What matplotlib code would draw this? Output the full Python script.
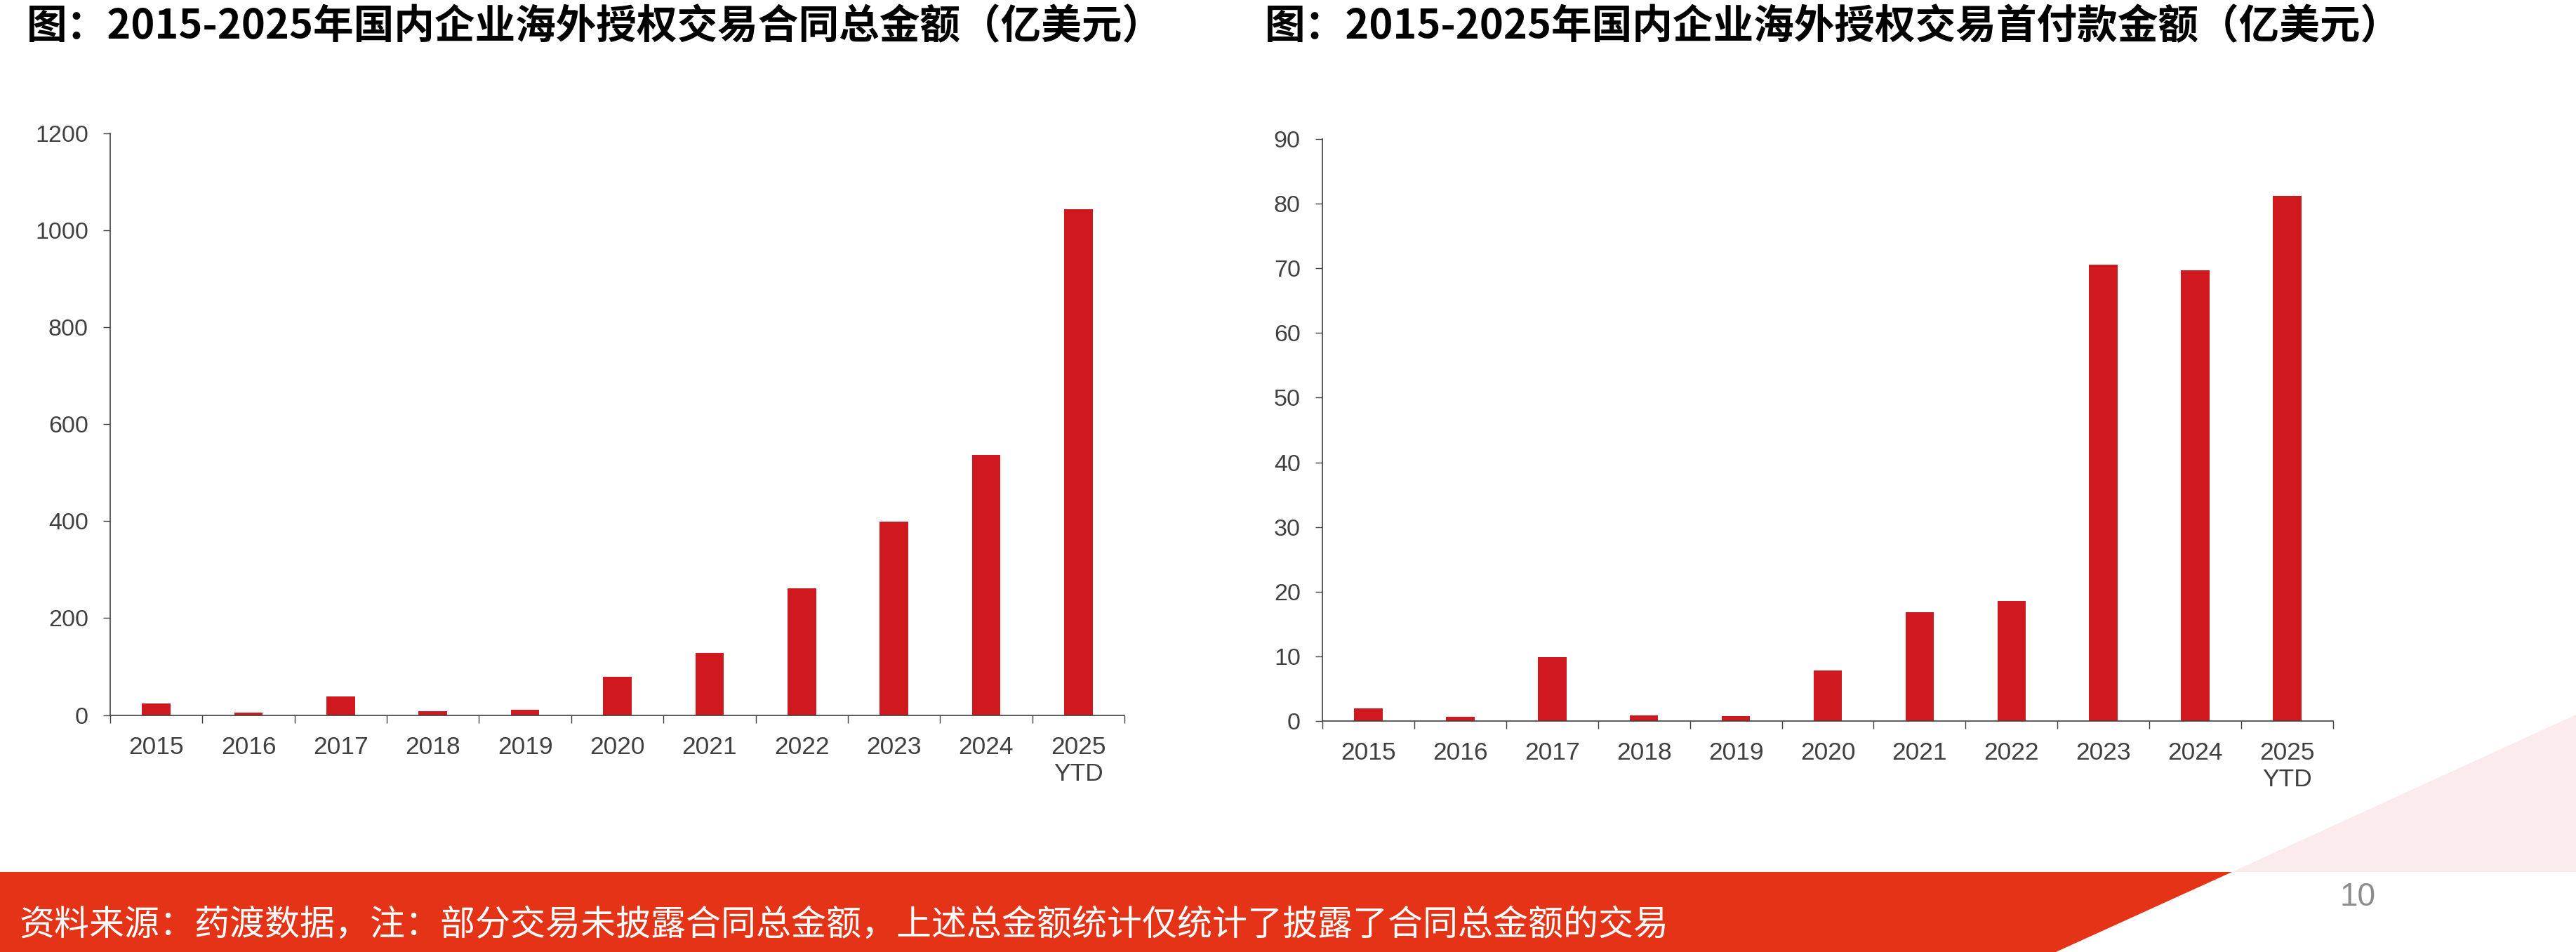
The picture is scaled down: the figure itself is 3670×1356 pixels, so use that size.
import numpy as np
import matplotlib.pyplot as plt
from matplotlib.patches import Polygon

# --- data (亿美元) ---
years = ['2015', '2016', '2017', '2018', '2019', '2020', '2021', '2022', '2023', '2024', '2025\nYTD']
total_value = [24, 5, 38.5, 8, 11, 78.5, 128, 262, 399, 537, 1043]
upfront_value = [2.0, 0.65, 9.9, 0.85, 0.75, 7.8, 16.8, 18.6, 70.6, 69.7, 81.2]

title_left = '图：2015-2025年国内企业海外授权交易合同总金额（亿美元）'
title_right = '图：2015-2025年国内企业海外授权交易首付款金额（亿美元）'
footer = '资料来源：药渡数据，注：部分交易未披露合同总金额，上述总金额统计仅统计了披露了合同总金额的交易'
page_no = '10'

# --- style ---
W, H = 3670, 1356
BAR_RED = '#D0181F'
BAND_RED = '#E43316'
PINK = '#FBEBEC'
AXIS_GREY = '#404040'
CJK = ['Noto Sans CJK SC', 'DejaVu Sans']
NUM = ['Liberation Sans', 'DejaVu Sans']

plt.rcParams['font.family'] = CJK

fig = plt.figure(figsize=(W / 100, H / 100), dpi=100)


def fx(px):
    return px / W


def fy(py):
    return 1 - py / H


# footer band and pink corner (page decoration)
band = Polygon([(fx(0), fy(1242)), (fx(3180), fy(1242)), (fx(2929), fy(1356)), (fx(0), fy(1356))],
               closed=True, transform=fig.transFigure, facecolor=BAND_RED, edgecolor='none', zorder=0)
corner = Polygon([(fx(3180), fy(1242)), (fx(3670), fy(1018)), (fx(3670), fy(1242))],
                 closed=True, transform=fig.transFigure, facecolor=PINK, edgecolor='none', zorder=0)
fig.add_artist(band)
fig.add_artist(corner)

fig.text(fx(28), fy(1318), footer, color='white', fontsize=36, va='center', ha='left', family=CJK)
fig.text(fx(3359), fy(1278), page_no, color='#8c8c8c', fontsize=33, va='center', ha='center', family=NUM)


def draw_panel(rect, values, ymax, ystep, title, title_x):
    ax = fig.add_axes(rect)
    x = np.arange(len(years))
    ax.bar(x, values, width=0.31, color=BAR_RED, zorder=2)
    ax.set_xlim(-0.5, len(years) - 0.5)
    ax.set_ylim(0, ymax)
    ax.set_yticks(np.arange(0, ymax + ystep / 2, ystep))
    ax.set_xticks(x)
    ax.set_xticklabels(years)
    ax.set_xticks(np.arange(len(years) + 1) - 0.5, minor=True)
    for s in ['top', 'right']:
        ax.spines[s].set_visible(False)
    for s in ['left', 'bottom']:
        ax.spines[s].set_color(AXIS_GREY)
        ax.spines[s].set_linewidth(1.2)
    ax.tick_params(axis='y', direction='out', length=7.5, width=1.0, color=AXIS_GREY,
                   pad=15, labelsize=24.5, labelcolor=AXIS_GREY)
    ax.tick_params(axis='x', which='major', length=0, pad=21, labelsize=25.5, labelcolor=AXIS_GREY)
    ax.tick_params(axis='x', which='minor', direction='out', length=8, width=1.0, color=AXIS_GREY)
    for lab in ax.get_xticklabels() + ax.get_yticklabels():
        lab.set_family(NUM)
    fig.text(fx(title_x), fy(38), title, fontsize=41.5, fontweight='bold', color='black',
             va='center', ha='left', family=CJK)
    return ax


draw_panel([fx(157), fy(1018.6), fx(1602 - 157), (1018.6 - 190) / H],
           total_value, 1200, 200, title_left, 38)
draw_panel([fx(1884), fy(1027), fx(3324 - 1884), (1027 - 198) / H],
           upfront_value, 90, 10, title_right, 1802)

fig.savefig('out.png', dpi=100)
